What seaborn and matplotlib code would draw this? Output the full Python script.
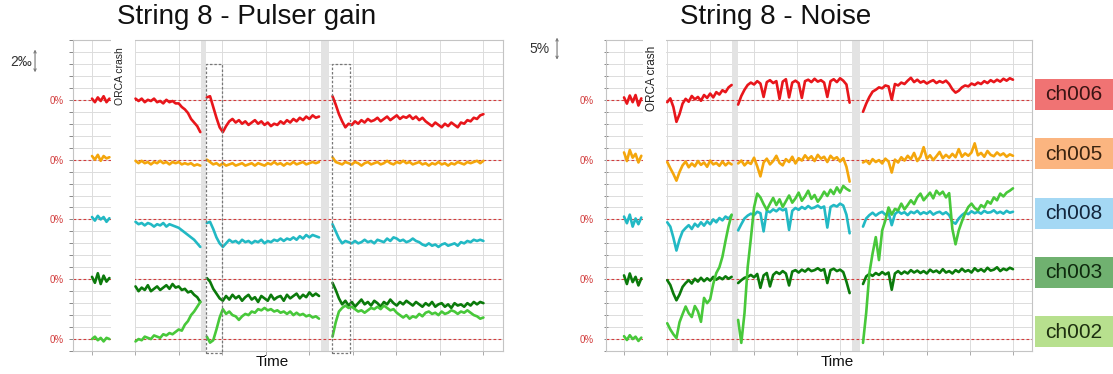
import numpy as np
import pandas as pd
import matplotlib
matplotlib.use("Agg")
import matplotlib.pyplot as plt
from matplotlib.patches import Rectangle
import seaborn as sns

# ---------------------------------------------------------------- data
channels = ["ch006", "ch005", "ch008", "ch003", "ch002"]
line_colors = ["#e8161b", "#f4a60c", "#22b9c4", "#0b7a0b", "#48c83a"]
badge_colors = ["#f07373", "#fbb580", "#a4d8f4", "#70b170", "#b7e08e"]
badge_text_colors = ["#3a1414", "#3a2410", "#13263d", "#0e2a0e", "#1e3010"]

# run periods on the time axis (one grid cell = one time unit)
run_start = [0.0, 1.0, 2.64, 5.53]
run_end = [0.40, 2.49, 5.22, 9.0]
restart_bands = [(2.51, 2.63), (5.27, 5.46)]
crash_window = (0.43, 0.98)
calib_windows = [(2.62, 2.99), (5.52, 5.93)]

# pulser gain deviation, per mille, one list per run
gain_ch006 = [
    [0.1, -0.2, 0.2, -0.1, 0.3, -0.2, 0.1],
    [0.1, -0.1, 0.1, -0.2, 0.0, -0.1, 0.1, -0.2, -0.1, -0.3, 0.0, -0.2, -0.1, -0.3,
     -0.3, -0.6, -0.8, -1.1, -1.6, -1.9, -2.2, -2.7],
    [0.2, 0.3, -0.6, -1.5, -2.3, -2.7, -2.2, -1.8, -1.6, -1.9, -1.7, -2.0, -1.8, -2.1,
     -1.9, -1.7, -2.0, -1.8, -2.1, -1.9, -2.2, -2.0, -2.1, -1.8, -2.0, -1.7, -1.9, -1.6,
     -1.8, -1.5, -1.7, -1.4, -1.6, -1.3, -1.5, -1.4],
    [0.3, -0.4, -1.2, -1.8, -2.3, -2.0, -2.1, -1.8, -2.0, -1.7, -1.9, -1.6, -1.8, -1.7,
     -1.5, -1.8, -1.6, -1.4, -1.7, -1.5, -1.3, -1.6, -1.4, -1.5, -1.3, -1.6, -1.4, -1.7,
     -1.5, -1.8, -2.0, -2.2, -1.9, -2.1, -2.3, -2.0, -2.2, -1.9, -2.1, -2.3, -1.9, -2.0,
     -1.7, -1.8, -1.5, -1.6, -1.3, -1.2],
]
gain_ch005 = [
    [0.3, 0.0, 0.4, -0.1, 0.3, 0.1, 0.2],
    [-0.1, -0.3, -0.1, -0.3, -0.2, -0.4, -0.2, -0.3, -0.1, -0.3, -0.2, -0.4, -0.2, -0.3,
     -0.2, -0.4, -0.3, -0.4, -0.3, -0.5, -0.4, -0.5],
    [0.0, -0.2, -0.4, -0.3, -0.5, -0.3, -0.5, -0.4, -0.3, -0.5, -0.4, -0.3, -0.5, -0.4,
     -0.3, -0.5, -0.3, -0.4, -0.5, -0.3, -0.4, -0.2, -0.4, -0.3, -0.5, -0.3, -0.4, -0.2,
     -0.4, -0.3, -0.2, -0.4, -0.3, -0.2, -0.3, -0.2],
    [0.2, -0.2, -0.3, -0.4, -0.2, -0.3, -0.4, -0.2, -0.3, -0.5, -0.3, -0.2, -0.4, -0.3,
     -0.2, -0.4, -0.3, -0.1, -0.3, -0.4, -0.2, -0.3, -0.1, -0.3, -0.2, -0.4, -0.3, -0.2,
     -0.4, -0.3, -0.5, -0.3, -0.4, -0.2, -0.4, -0.3, -0.5, -0.3, -0.4, -0.2, -0.3, -0.4,
     -0.2, -0.3, -0.2, -0.1, -0.3, -0.1],
]
gain_ch008 = [
    [0.2, -0.1, 0.3, 0.0, 0.2, -0.2, 0.1],
    [-0.2, -0.4, -0.3, -0.5, -0.3, -0.4, -0.6, -0.4, -0.5, -0.3, -0.6, -0.4, -0.5, -0.6,
     -0.7, -0.9, -1.1, -1.3, -1.5, -1.7, -2.0, -2.3],
    [-0.3, -0.2, -0.8, -1.5, -2.0, -2.3, -2.0, -1.7, -1.9, -1.8, -2.0, -1.7, -1.9, -1.8,
     -2.0, -1.8, -1.9, -1.7, -2.0, -1.8, -1.9, -1.7, -1.8, -1.6, -1.8, -1.6, -1.7, -1.5,
     -1.7, -1.4, -1.6, -1.3, -1.5, -1.3, -1.4, -1.5],
    [-0.4, -1.0, -1.6, -2.0, -1.8, -1.9, -2.0, -1.8, -2.0, -1.9, -1.7, -1.9, -1.8, -2.0,
     -1.7, -1.8, -1.9, -1.6, -1.8, -1.5, -1.6, -1.8, -1.7, -1.9, -1.8, -1.6, -1.8, -1.9,
     -2.1, -2.2, -2.0, -2.2, -2.1, -2.3, -2.1, -2.0, -2.2, -2.1, -2.0, -2.2, -1.9, -2.0,
     -1.8, -1.9, -1.7, -1.8, -1.7, -1.8],
]
gain_ch003 = [
    [0.2, -0.3, 0.5, -0.4, 0.3, -0.2, 0.1],
    [-0.6, -1.0, -0.7, -0.9, -0.5, -1.0, -0.8, -0.6, -0.9, -0.7, -0.5, -0.8, -0.4, -0.7,
     -0.6, -0.9, -0.8, -1.1, -1.0, -1.3, -1.5, -1.9],
    [0.1, -0.2, -0.8, -1.2, -1.6, -1.8, -1.4, -1.7, -1.3, -1.6, -1.4, -1.8, -1.5, -1.3,
     -1.7, -1.5, -1.9, -1.4, -1.6, -1.8, -1.3, -1.7, -1.5, -1.4, -1.8, -1.3, -1.6, -1.4,
     -1.2, -1.6, -1.3, -1.5, -1.1, -1.4, -1.2, -1.4],
    [-0.3, -0.9, -1.6, -2.1, -1.8, -2.2, -1.9, -2.3, -2.0, -1.7, -2.1, -1.9, -2.2, -1.8,
     -2.0, -2.3, -1.9, -2.1, -1.7, -2.0, -2.2, -1.9, -2.1, -1.8, -2.0, -2.2, -1.9, -2.1,
     -2.3, -2.0, -2.2, -1.9, -2.3, -2.1, -2.0, -2.3, -2.1, -2.4, -2.0, -2.2, -2.1, -2.3,
     -2.0, -2.2, -1.9, -2.1, -1.9, -2.0],
]
gain_ch002 = [
    [0.0, 0.2, -0.1, 0.1, -0.2, 0.1, 0.0],
    [-0.2, 0.0, -0.1, 0.2, 0.1, 0.0, 0.3, 0.2, 0.1, 0.4, 0.3, 0.5, 0.4, 0.6, 0.8, 0.7,
     1.2, 1.5, 2.0, 2.3, 2.7, 3.1],
    [0.2, -0.3, -0.1, 0.8, 1.8, 2.5, 2.1, 2.3, 2.0, 1.9, 1.6, 1.9, 2.1, 2.0, 2.3, 2.2,
     2.5, 2.4, 2.6, 2.4, 2.5, 2.3, 2.4, 2.2, 2.3, 2.1, 2.3, 2.0, 2.2, 2.0, 2.1, 1.9, 2.0,
     1.8, 1.9, 1.7],
    [0.2, 1.4, 2.3, 2.6, 2.8, 2.6, 2.7, 2.5, 2.3, 2.4, 2.2, 2.4, 2.6, 2.5, 2.7, 2.5, 2.8,
     2.6, 2.4, 2.5, 2.2, 2.0, 1.8, 2.0, 1.7, 1.9, 1.8, 2.1, 1.9, 2.2, 2.3, 2.1, 2.2, 2.0,
     2.3, 2.1, 2.2, 2.4, 2.3, 2.1, 2.3, 2.2, 2.4, 2.2, 2.0, 1.9, 1.7, 1.8],
]

# noise deviation, percent, one list per run
noise_ch006 = [
    [0.5, -0.8, 0.9, -0.5, 1.0, -1.2, 0.3],
    [-0.5, 0.3, -1.5, -4.6, -3.0, -0.8, 0.2, -0.4, 0.8, 0.1, 0.6, -0.2, 1.0, 0.4, 1.3,
     0.5, 1.6, 1.1, 2.0, 1.6, 2.6, 3.1],
    [-1.0, 0.8, 2.1, 3.1, 3.6, 3.2, 3.9, 3.4, 0.6, 3.7, 4.1, 3.5, 3.9, 0.2, 3.8, 4.3,
     0.5, 3.6, 4.0, 3.5, 0.4, 3.9, 4.2, 3.7, 4.4, 3.8, 4.1, 3.6, 0.6, 3.9, 4.3, 3.7,
     4.5, 4.0, 3.2, -0.6],
    [-2.5, -0.8, 0.6, 1.7, 2.1, 2.6, 2.4, 3.0, 2.8, 0.0, 3.3, 3.0, 3.6, 3.3, 4.0, 4.6,
     3.7, 4.2, 3.6, 3.9, 3.4, 3.8, 4.1, 3.5, 3.9, 3.6, 4.0, 3.3, 2.2, 1.5, 1.9, 2.6,
     3.0, 2.8, 3.4, 3.1, 3.6, 3.3, 3.9, 3.5, 4.1, 3.7, 4.2, 3.8, 4.4, 4.0, 4.5, 4.2],
]
noise_ch005 = [
    [1.5, -0.3, 2.0, 0.4, 1.2, -0.6, 0.8],
    [-0.5, -1.8, -3.0, -4.4, -2.6, -1.2, -0.4, -1.6, -0.8, -1.4, -0.3, -1.1, -0.6, -1.5,
     -0.2, -1.0, -0.7, -1.3, -0.4, -1.2, -0.6, -1.0],
    [-0.8, -0.2, -1.2, -0.5, -0.9, 0.4, -1.4, -3.5, -0.6, 0.2, -1.0, -0.3, 0.8, -0.7,
     -1.2, 0.1, -0.5, 0.6, -0.8, 0.3, -0.2, 0.9, 0.1, 0.7, -0.3, 1.0, 0.2, 0.6, -0.5,
     0.8, 0.1, 0.5, -0.4, 0.3, -1.5, -4.6],
    [-0.6, -0.2, -0.9, 0.1, -0.5, -0.1, -0.8, 0.2, -0.4, -2.7, 0.0, -0.6, 0.5, -0.2,
     0.8, 0.1, 1.4, -0.3, 0.6, 2.6, 0.2, 0.9, -0.1, 0.7, 1.6, 0.3, 1.0, 0.4, 1.2, 0.5,
     2.2, 0.6, 1.3, 0.8, 1.5, 3.4, 0.9, 1.4, 0.6, 1.8, 1.0, 0.7, 1.5, 0.9, 1.3, 0.6,
     1.1, 0.8],
]
noise_ch008 = [
    [0.6, -0.8, 1.0, -1.5, 0.2, -1.0, 0.4],
    [-0.6, -1.5, -3.8, -6.5, -4.2, -2.5, -1.8, -1.2, -2.0, -0.9, -1.5, -0.6, -1.3, -0.4,
     -1.0, 0.0, -0.6, 0.3, -0.2, 0.6, 0.2, 0.9],
    [-2.3, -1.0, 0.2, 0.8, 1.2, 0.9, 1.6, 1.3, -2.5, 1.8, 1.5, 2.1, 1.7, 2.3, 1.9, 2.2,
     -2.2, 1.8, 2.4, 2.0, 2.6, 2.2, 2.8, 2.3, 2.5, 2.9, 2.4, 2.7, -1.7, 2.6, 3.0, 2.7,
     3.3, 2.9, 1.0, -2.9],
    [-1.5, 0.2, 0.9, 1.4, 0.8, 1.3, 1.6, 1.0, 1.4, -1.2, 1.1, 1.7, 1.2, 1.5, 0.9, 1.6,
     1.3, 1.8, 1.1, 1.5, 1.2, 1.7, 1.0, 1.4, 1.6, 1.1, 1.5, 0.9, -0.5, -0.9, 0.2, 0.9,
     1.4, 1.1, 1.7, 1.3, 1.6, 1.2, 1.8, 1.4, 1.5, 1.9, 1.3, 1.6, 1.2, 1.8, 1.4, 1.6],
]
noise_ch003 = [
    [0.8, -1.0, 1.2, -0.6, 0.5, -1.3, 0.2],
    [-0.2, -1.2, -3.0, -4.4, -3.2, -1.6, -0.8, -0.2, -0.9, 0.1, -0.5, 0.3, -0.4, 0.2,
     -0.3, 0.5, -0.1, 0.4, 0.0, 0.6, 0.1, 0.5],
    [-0.8, -0.2, 0.3, 0.5, 0.9, 0.4, 1.1, -1.8, 0.8, 1.3, -1.5, 0.9, 1.5, 1.1, 1.7, 1.2,
     -1.3, 1.6, 1.9, 1.4, 2.0, 1.6, 2.2, 1.7, 1.9, 2.3, 1.8, 2.1, -0.8, 1.9, 2.2, 1.7,
     2.0, 1.5, -0.5, -2.9],
    [-1.0, 0.6, 1.1, 0.7, 1.3, 0.9, 1.5, 1.0, 1.4, -2.2, 1.2, 1.7, 1.1, 1.6, 1.2, 1.9,
     1.4, 1.8, 1.3, 1.7, 1.2, 2.0, 1.5, 1.8, 1.3, 2.1, 1.4, 1.7, 1.2, 1.9, 1.5, 2.2,
     1.6, 1.9, 1.4, 2.3, 1.7, 2.1, 1.6, 2.4, 1.8, 2.0, 2.5, 1.7, 2.2, 1.9, 2.4, 2.1],
]
noise_ch002 = [
    [0.6, -0.2, 0.8, 0.0, 0.5, -0.4, 0.3],
    [3.3, 2.0, 1.0, 0.2, 3.5, 5.2, 6.8, 5.4, 4.6, 6.9, 5.8, 3.6, 8.6, 7.5, 8.3, 11.5,
     13.8, 15.0, 17.2, 20.5, 23.6, 26.0],
    [4.0, -0.8, 5.4, 15.0, 21.0, 27.5, 30.4, 29.6, 28.2, 27.0, 28.3, 29.5, 28.0, 29.2,
     27.6, 28.8, 30.0, 28.5, 29.4, 30.6, 28.9, 29.8, 31.0, 29.3, 30.1, 28.7, 29.6, 30.8,
     29.9, 31.2, 30.3, 31.7, 30.6, 32.0, 31.4, 31.0],
    [-0.8, 5.5, 13.8, 17.9, 21.3, 16.5, 22.7, 24.8, 27.5, 26.0, 27.2, 26.9, 28.3, 27.1,
     28.0, 29.0, 28.2, 29.6, 30.4, 29.0, 29.8, 30.6, 29.4, 31.0, 30.2, 30.8, 29.6, 30.5,
     23.0, 19.8, 22.7, 24.6, 26.3, 27.6, 28.3, 27.4, 26.9, 28.0, 27.5, 28.8, 28.3, 29.6,
     29.0, 30.4, 29.8, 30.6, 31.0, 31.5],
]

gain_series = [gain_ch006, gain_ch005, gain_ch008, gain_ch003, gain_ch002]
noise_series = [noise_ch006, noise_ch005, noise_ch008, noise_ch003, noise_ch002]

# ---------------------------------------------------------------- style
sns.set_theme(style="white")
plt.rcParams["font.family"] = ["Liberation Sans", "DejaVu Sans"]

W, H = 1113, 374
fig = plt.figure(figsize=(W / 100, H / 100), dpi=100)
ax_gain = fig.add_axes([73 / W, 1 - 351 / H, 430 / W, 311 / H])
ax_noise = fig.add_axes([606 / W, 1 - 351 / H, 426 / W, 311 / H])

GRID = "#dcdcdc"
ZERO_RED = "#d23c3c"


def stacked_frame(series, spacing):
    rows = []
    for slot, (name, runs) in enumerate(zip(channels, series)):
        base = (len(channels) - 1 - slot) * spacing
        for k, vals in enumerate(runs):
            t = np.linspace(run_start[k], run_end[k], len(vals))
            for ti, v in zip(t, vals):
                rows.append((ti, base + v, name, f"{name}-{k}"))
    return pd.DataFrame(rows, columns=["time", "value", "channel", "run"])


def draw_panel(ax, series, spacing, step, xlim, label_pad, crash_y, crash_size,
               tick_dir):
    n = len(channels)
    ymin, ymax = -step, n * spacing
    df = stacked_frame(series, spacing)

    ax.set_xlim(*xlim)
    ax.set_ylim(ymin, ymax)

    # restart periods
    for a, b in restart_bands:
        ax.axvspan(a, b, color="#e3e3e3", lw=0, zorder=1.5)

    # reference lines at each channel's 0%
    for s in range(n):
        ax.axhline(s * spacing, color=ZERO_RED, lw=0.8, ls=(0, (2.5, 2)), zorder=2)

    sns.lineplot(data=df, x="time", y="value", hue="channel", units="run",
                 estimator=None, sort=False, hue_order=channels,
                 palette=line_colors, lw=1.9, legend=False, ax=ax, zorder=4)

    # DAQ crash window blanks the plot area
    ax.add_patch(Rectangle((crash_window[0], ymin + 0.02 * step),
                           crash_window[1] - crash_window[0],
                           (ymax - ymin) + 0.3 * step,
                           facecolor="white", edgecolor="none", zorder=3,
                           clip_on=False))
    ax.text(sum(crash_window) / 2 - 0.06, crash_y, "ORCA crash", rotation=90,
            ha="center", va="center", fontsize=crash_size, color="#222222",
            zorder=5)

    ax.set_xticks(np.arange(0, 10))
    ax.set_xticklabels([])
    ax.set_yticks([s * spacing for s in range(n)])
    ax.set_yticklabels(["0%"] * n)
    ax.set_yticks(np.arange(ymin, ymax + step / 2, step), minor=True)
    ax.grid(which="both", color=GRID, lw=0.7)
    ax.set_axisbelow(True)
    ax.tick_params(axis="y", which="both", direction=tick_dir, length=3,
                   width=0.7, color="#888888", labelcolor=ZERO_RED,
                   labelsize=7, pad=label_pad, left=True)
    ax.tick_params(axis="x", direction="out", length=3, width=0.7,
                   color="#aaaaaa", bottom=True)
    ax.set_xlabel("")
    ax.set_ylabel("")
    for sp in ax.spines.values():
        sp.set_color("#c4c4c4")
        sp.set_linewidth(0.8)


xlim_gain = (-0.437, 9.45)
xlim_noise = (-0.417, 9.44)
draw_panel(ax_gain, gain_series, 5.0, 1.0, xlim_gain, 4.0, 22.0, 7.5, "out")
draw_panel(ax_noise, noise_series, 12.5, 2.5, xlim_noise, 7.5, 54.4, 8.5, "inout")

# calibration windows after each restart (pulser panel)
for a, b in calib_windows:
    ax_gain.add_patch(Rectangle((a, -1.15), b - a, 24.15, fill=False,
                                edgecolor="#777777", lw=0.9, ls=(0, (2, 1.5)),
                                zorder=6, clip_on=False))

# scale bars
ax_gain.annotate("", xy=(-1.31, 24.2), xytext=(-1.31, 22.3),
                 arrowprops=dict(arrowstyle="<->", color="#777777", lw=0.8,
                                 shrinkA=0, shrinkB=0, mutation_scale=4),
                 annotation_clip=False)
ax_gain.text(-1.37, 23.2, "2‰", ha="right", va="center", fontsize=10,
             color="#333333", clip_on=False)
ax_noise.annotate("", xy=(-1.55, 63.0), xytext=(-1.55, 58.4),
                  arrowprops=dict(arrowstyle="<->", color="#777777", lw=0.8,
                                  shrinkA=0, shrinkB=0, mutation_scale=4),
                  annotation_clip=False)
ax_noise.text(-1.72, 60.7, "5%", ha="right", va="center", fontsize=10,
              color="#333333", clip_on=False)

# titles and axis names
fig.text(247 / W, 1 - 17 / H, "String 8 - Pulser gain", ha="center", va="center",
         fontsize=20, color="#111111")
fig.text(776 / W, 1 - 17 / H, "String 8 - Noise", ha="center", va="center",
         fontsize=20, color="#111111")
fig.text(272 / W, 1 - 362 / H, "Time", ha="center", va="center", fontsize=11,
         color="#111111")
fig.text(837 / W, 1 - 362 / H, "Time", ha="center", va="center", fontsize=11,
         color="#111111")

# channel badges
badge_top = [79, 138, 198, 257, 316]
for name, top, fc, tc in zip(channels, badge_top, badge_colors, badge_text_colors):
    fig.add_artist(Rectangle((1035 / W, 1 - (top + 31) / H), 90 / W, 31 / H,
                             transform=fig.transFigure, facecolor=fc,
                             edgecolor="none"))
    fig.text(1045 / W, 1 - (top + 16) / H, name, ha="left", va="center",
             fontsize=15, color=tc)

fig.savefig("out.png", dpi=100)
